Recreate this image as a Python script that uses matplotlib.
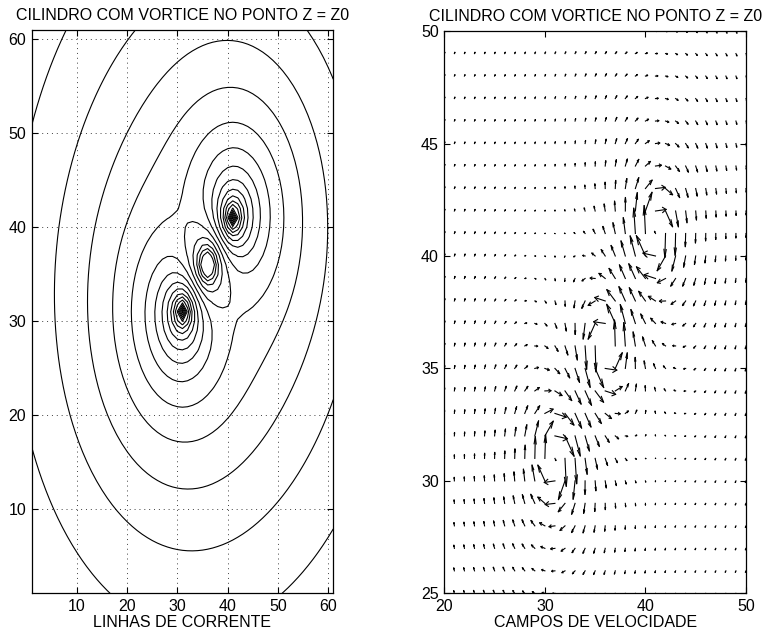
import numpy as np
import matplotlib.pyplot as plt
from matplotlib.collections import LineCollection

plt.rcParams['font.family'] = ['Liberation Sans', 'DejaVu Sans']
plt.rcParams['font.size'] = 11.5

# grid -3:0.1:3, drawn against the grid index 1..61
grid_vals = np.linspace(-3, 3, 61)
grid_idx = np.arange(1, 62)

# vortices: centre of cylinder, image point a^2/conj(z0), and z0 = 1+1i
vortex_x = [0.0, 0.5, 1.0]
vortex_y = [0.0, 0.5, 1.0]
vortex_gamma = [1, -1, 1]
core_contour = 0.03
core_velocity = 0.06

# contour levels of the stream function
level_min = -4.14
level_max = 1.4
level_step = 0.25

# window of the velocity plot (grid index)
quiver_xlim = [20, 50]
quiver_ylim = [25, 50]
autoscale = 0.9
head_alpha = 0.33
head_beta = 0.33

title_txt = "CILINDRO COM VORTICE NO PONTO Z = Z0"
xlabels = ["LINHAS DE CORRENTE", "CAMPOS DE VELOCIDADE"]
left_ticks = [10, 20, 30, 40, 50, 60]
right_xticks = [20, 30, 40, 50]
right_yticks = [25, 30, 35, 40, 45, 50]


def stream(core):
    X, Y = np.meshgrid(grid_vals, grid_vals)
    p = np.zeros_like(X)
    for vx, vy, g in zip(vortex_x, vortex_y, vortex_gamma):
        r = np.hypot(X - vx, Y - vy)
        p += g * np.log(np.maximum(r, core))
    return p


psi = stream(core_contour)
I, J = np.meshgrid(grid_idx, grid_idx)
levels = np.arange(level_min, level_max, level_step)

# velocity from the gradient (index units), scaled like matlab's quiver
dpsi_dy, dpsi_dx = np.gradient(stream(core_velocity))
u = dpsi_dy
v = -dpsi_dx
maxlen = np.max(np.sqrt((u ** 2 + v ** 2) / 2.0))
u = u * autoscale / maxlen
v = v * autoscale / maxlen

fig = plt.figure(figsize=(7.67, 6.36), dpi=100)

# left: streamlines
ax1 = fig.add_axes([0.0413, 0.0671, 0.3932, 0.8857])
ax1.contour(I, J, psi, levels=levels, colors='k', linewidths=0.8,
            linestyles='solid')
ax1.set_xlim(1, 61)
ax1.set_ylim(1, 61)
ax1.set_xticks(left_ticks)
ax1.set_yticks(left_ticks)
ax1.grid(True, color='0.25', linestyle=(0, (1, 4)), linewidth=0.7)
ax1.set_title(title_txt, fontsize=11.5, pad=7)
ax1.set_xlabel(xlabels[0], labelpad=1)

# right: velocity field, arrows drawn like matlab quiver
ax2 = fig.add_axes([0.5793, 0.0671, 0.3933, 0.8840])
x0 = I.ravel().astype(float)
y0 = J.ravel().astype(float)
uu = u.ravel()
vv = v.ravel()
eps = 1e-12
tipx = x0 + uu
tipy = y0 + vv
h1x = tipx - head_alpha * (uu + head_beta * (vv + eps))
h1y = tipy - head_alpha * (vv - head_beta * (uu + eps))
h2x = tipx - head_alpha * (uu - head_beta * (vv + eps))
h2y = tipy - head_alpha * (vv + head_beta * (uu + eps))
shafts = [[(a, b), (c, d)] for a, b, c, d in zip(x0, y0, tipx, tipy)]
heads = [[(a, b), (c, d), (e, f)] for a, b, c, d, e, f in zip(h1x, h1y, tipx, tipy, h2x, h2y)]
ax2.add_collection(LineCollection(shafts + heads, colors='k', linewidths=0.8,
                                  capstyle='projecting'))
ax2.set_xlim(quiver_xlim)
ax2.set_ylim(quiver_ylim)
ax2.set_xticks(right_xticks)
ax2.set_yticks(right_yticks)
ax2.set_title(title_txt, fontsize=11.5, pad=7)
ax2.set_xlabel(xlabels[1], labelpad=1)

for ax in (ax1, ax2):
    ax.tick_params(direction='in', top=True, right=True, length=4, width=0.8,
                   pad=4)
    for s in ax.spines.values():
        s.set_linewidth(0.9)

fig.savefig('out.png', dpi=100)
